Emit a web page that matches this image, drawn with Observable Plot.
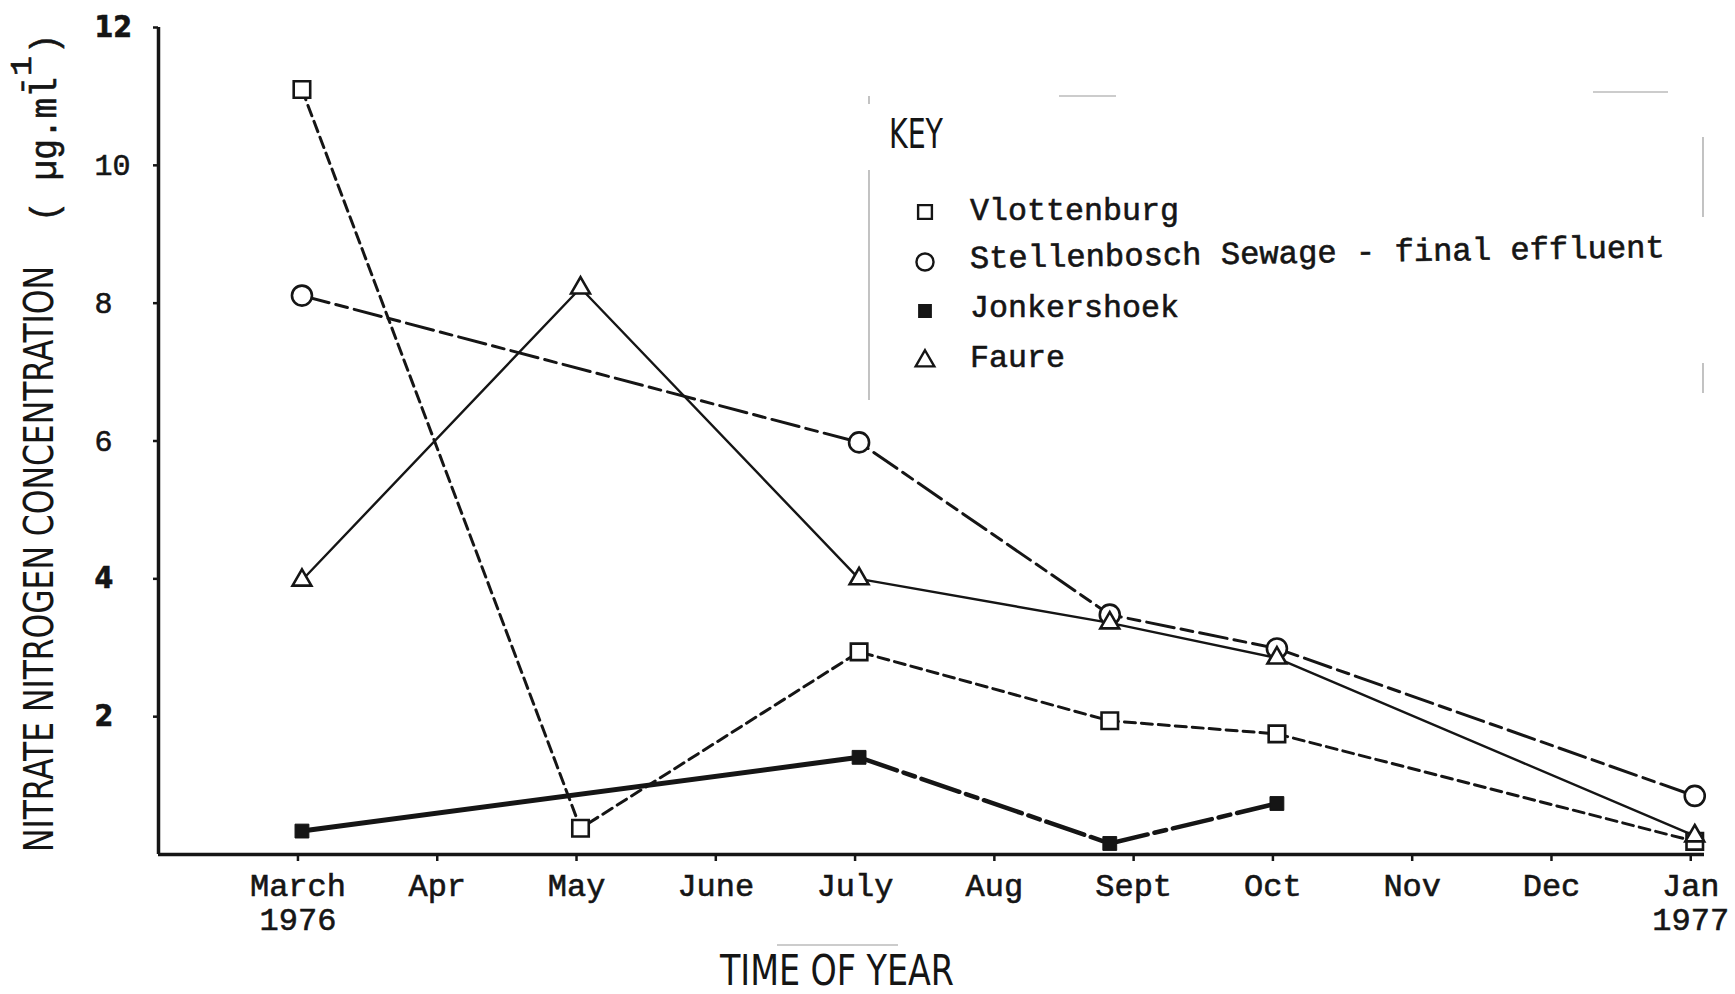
<!DOCTYPE html>
<html>
<head>
<meta charset="utf-8">
<script src="https://cdn.jsdelivr.net/npm/d3@7"></script>
<script src="https://cdn.jsdelivr.net/npm/@observablehq/plot@0.6"></script>
<style>
  html, body { margin: 0; padding: 0; background: #fff; overflow: hidden; }
  svg { display: block; }
  g[aria-label$="tick label"] text { stroke: #151515; stroke-width: 0.6px; }
  .annotations text.mono { stroke: #151515; stroke-width: 0.6px; }
</style>
</head>
<body>
<div id="chart"></div>
<script>
// ---- data ----
const monthLabels = ["March\n1976", "Apr", "May", "June", "July", "Aug", "Sept", "Oct", "Nov", "Dec", "Jan\n1977"];
const monthTicks = [0, 1, 2, 3, 4, 5, 6, 7, 8, 9, 10];
const sampleMonths = [0, 2, 4, 5.8, 7, 10];           // months after March 1976
const vlottenburg  = [11.1, 0.38, 2.94, 1.94, 1.75, 0.19];
const stellenbosch = [8.11, null, 5.98, 3.48, 2.99, 0.85];
const jonkershoek  = [0.34, null, 1.41, 0.16, 0.74, null];
const faure        = [3.98, 8.22, 4.0, 3.36, 2.85, 0.27];
const yTicksBold = [12, 4, 2];
const yTicksMono = [10, 8, 6];
const seriesNames = ["Vlottenburg", "Stellenbosch Sewage - final effluent", "Jonkershoek", "Faure"];
const xDomain = [-1.03, 10.07];
const yDomain = [0, 12];

const rows = vals => sampleMonths.map((m, i) => ({m, v: vals[i]})).filter(d => d.v != null);
const vl = rows(vlottenburg), st = rows(stellenbosch), jo = rows(jonkershoek), fa = rows(faure);
const joA = jo.filter(d => d.m <= 4), joB = jo.filter(d => d.m >= 4);

const mono = "'Liberation Mono', 'DejaVu Sans Mono', monospace";
const cond = "'DejaVu Sans Condensed', 'DejaVu Sans', sans-serif";
const ink = "#151515";

const chart = Plot.plot({
  width: 1735, height: 994,
  marginLeft: 158, marginRight: 31, marginTop: 27, marginBottom: 140,
  style: {background: "#fff", color: ink, fontFamily: mono},
  x: {type: "linear", domain: xDomain},
  y: {type: "linear", domain: yDomain},
  marks: [
    Plot.ruleY([0], {stroke: ink, strokeWidth: 3.5}),
    Plot.ruleX([xDomain[0]], {stroke: ink, strokeWidth: 3.5}),
    Plot.axisX(monthTicks, {
      tickFormat: i => monthLabels[i], tickSize: 7, tickPadding: 10, strokeWidth: 2.5,
      fontSize: 32, fontFamily: mono, lineHeight: 1.06, dx: -4, label: null
    }),
    Plot.axisY(yTicksBold, {
      tickFormat: d => String(d),
      tickSize: 5, tickPadding: 59, textAnchor: "start", strokeWidth: 2.5,
      fontSize: 30, fontFamily: cond, fontWeight: "bold", label: null
    }),
    Plot.axisY(yTicksMono, {
      tickFormat: d => String(d),
      tickSize: 5, tickPadding: 59, textAnchor: "start", strokeWidth: 2.5,
      fontSize: 30, fontFamily: mono, label: null
    }),
    // lines
    Plot.line(vl, {x: "m", y: "v", stroke: ink, strokeWidth: 3, strokeDasharray: "11,6"}),
    Plot.line(st, {x: "m", y: "v", stroke: ink, strokeWidth: 3, strokeDasharray: "28,7,12,7"}),
    Plot.line(joA, {x: "m", y: "v", stroke: ink, strokeWidth: 5}),
    Plot.line(joB, {x: "m", y: "v", stroke: ink, strokeWidth: 4.5, strokeDasharray: "40,7,12,7"}),
    Plot.line(fa, {x: "m", y: "v", stroke: ink, strokeWidth: 2.4}),
    // markers
    Plot.dot(vl, {x: "m", y: "v", symbol: "square", r: 9.3, fill: "#fff", stroke: ink, strokeWidth: 2.6}),
    Plot.dot(st, {x: "m", y: "v", symbol: "circle", r: 10, fill: "#fff", stroke: ink, strokeWidth: 2.6}),
    Plot.dot(jo, {x: "m", y: "v", symbol: "square", r: 7.8, fill: ink, stroke: ink, strokeWidth: 1}),
    Plot.dot(fa, {x: "m", y: "v", symbol: "triangle", r: 7, fill: "#fff", stroke: ink, strokeWidth: 2.6})
  ]
});
document.getElementById("chart").appendChild(chart);

// ---- titles and key drawn as real text over the plot ----
const svg = d3.select(chart);
const g = svg.append("g").attr("class", "annotations").attr("text-anchor", "start");

function txt(parent, s, x, y, opts) {
  const t = parent.append("text").attr("x", x).attr("y", y).text(s)
    .attr("text-anchor", "start")
    .attr("font-family", opts.font).attr("font-size", opts.size)
    .attr("fill", ink).attr("font-weight", opts.weight || "normal");
  if (opts.font === mono) t.attr("class", "mono");
  if (opts.len) t.attr("textLength", opts.len).attr("lengthAdjust", "spacingAndGlyphs");
  if (opts.stretch) t.attr("font-stretch", opts.stretch);
  return t;
}

// y-axis title (rotated)
const yl = g.append("g").attr("transform", "rotate(-90)");
txt(yl, "NITRATE NITROGEN CONCENTRATION", -852, 53, {font: cond, size: 41, len: 586, stretch: "condensed"});
txt(yl, "( \u00b5g.ml", -222, 56, {font: mono, size: 36, len: 145});
txt(yl, "-1", -96, 31, {font: mono, size: 30, len: 40});
txt(yl, ")", -54, 56, {font: mono, size: 36, len: 20});

// x-axis title
txt(g, "TIME OF YEAR", 720, 985, {font: cond, size: 42, len: 234, stretch: "condensed"});
g.append("line").attr("x1", 777).attr("x2", 898).attr("y1", 945).attr("y2", 945)
  .attr("stroke", "#999").attr("stroke-width", 1.2);

// key
txt(g, "KEY", 889, 148, {font: cond, size: 41, len: 54, stretch: "condensed"});
const keySymbols = [
  {type: d3.symbolSquare, size: 190, fill: "#fff"},
  {type: d3.symbolCircle, size: 230, fill: "#fff"},
  {type: d3.symbolSquare, size: 130, fill: ink},
  {type: d3.symbolTriangle, size: 150, fill: "#fff"}
];
const keyRowsY = [212, 262, 311, 361];
const keyTextY = [220, 268, 317, 367];
const keyLens = [209, 695, 209, 95];
seriesNames.forEach((name, i) => {
  g.append("path").attr("d", d3.symbol().type(keySymbols[i].type).size(keySymbols[i].size)())
    .attr("transform", `translate(925,${keyRowsY[i]})`)
    .attr("fill", keySymbols[i].fill).attr("stroke", ink).attr("stroke-width", 2.4);
  const t = txt(g, name, 970, keyTextY[i], {font: mono, size: 32, len: keyLens[i]});
  if (i === 1) t.attr("transform", "rotate(-0.9 970 268)");
});
// faint box fragments of the key
const faint = [
  [869, 170, 869, 400], [869, 96, 869, 104],
  [1703, 137, 1703, 217], [1703, 363, 1703, 393],
  [1059, 96, 1116, 96], [1593, 92, 1668, 92]
];
faint.forEach(([x1, y1, x2, y2]) => g.append("line")
  .attr("x1", x1).attr("y1", y1).attr("x2", x2).attr("y2", y2)
  .attr("stroke", "#9a9a9a").attr("stroke-width", 1.2));
</script>
</body>
</html>
